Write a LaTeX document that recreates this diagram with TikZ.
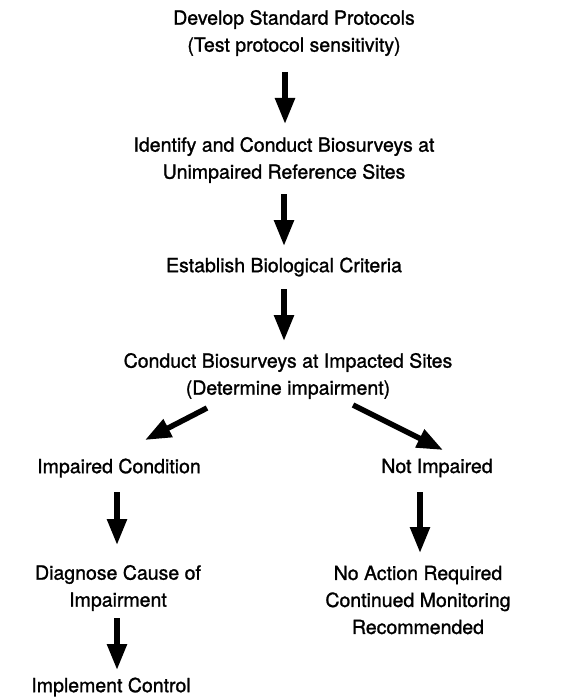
\documentclass[tikz,border=0pt]{standalone}
\usepackage{fontspec}
\setmainfont[FakeBold=1.2]{TeX Gyre Heros}
\usetikzlibrary{arrows.meta}
\begin{document}
\begin{tikzpicture}[x=1pt,y=-1pt,
  lbl/.style={font=\fontsize{19.5}{27}\selectfont, align=center, inner sep=0pt},
  fat/.style={line width=5.5pt, -{Triangle[width=19pt,length=26pt]}}]
\useasboundingbox (0,0) rectangle (568,698);
\node[lbl] (a) at (294,33) {Develop Standard Protocols\\(Test protocol sensitivity)};
\node[lbl] (b) at (284,160) {Identify and Conduct Biosurveys at\\Unimpaired Reference Sites};
\node[lbl] (c) at (284,267) {Establish Biological Criteria};
\node[lbl] (d) at (288,376) {Conduct Biosurveys at Impacted Sites\\(Determine impairment)};
\node[lbl] (e) at (119,468) {Impaired Condition};
\node[lbl] (f) at (437,468) {Not Impaired};
\node[lbl] (g) at (118,588) {Diagnose Cause of\\Impairment};
\node[lbl] (h) at (418,600) {No Action Required\\Continued Monitoring\\Recommended};
\node[lbl] (i) at (111,687) {Implement Control};
\coordinate (a1) at (285,72); \coordinate (a2) at (285,124);
\coordinate (b1) at (284,194); \coordinate (b2) at (284,246);
\coordinate (c1) at (284,289); \coordinate (c2) at (284,341);
\coordinate (d1) at (207,408); \coordinate (d2) at (145,440);
\coordinate (d3) at (353,405); \coordinate (d4) at (443,450);
\coordinate (e1) at (117,492); \coordinate (e2) at (117,545);
\coordinate (f1) at (420,492); \coordinate (f2) at (420,553);
\coordinate (g1) at (117,618); \coordinate (g2) at (117,670);
\draw[fat] (a1) -- (a2);
\draw[fat] (b1) -- (b2);
\draw[fat] (c1) -- (c2);
\draw[fat] (d1) -- (d2);
\draw[fat] (d3) -- (d4);
\draw[fat] (e1) -- (e2);
\draw[fat] (f1) -- (f2);
\draw[fat] (g1) -- (g2);
\end{tikzpicture}
\end{document}
